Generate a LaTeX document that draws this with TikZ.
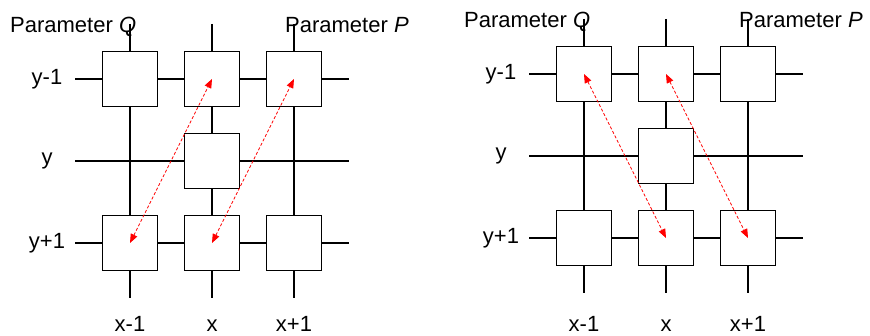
\documentclass[tikz,border=0pt]{standalone}
\usepackage{fontspec}
\setmainfont{Liberation Sans}
\usetikzlibrary{arrows.meta}

\tikzset{
  cell/.style={draw, line width=1.3pt, fill=white, minimum size=55pt, inner sep=0pt},
  wire/.style={line width=1.3pt},
  hop/.style={red, line width=0.8pt, dash pattern=on 3pt off 2pt,
    {Triangle[length=9pt,width=7pt]}-{Triangle[length=9pt,width=7pt]}},
  lbl/.style={font=\fontsize{22}{26}\selectfont, inner sep=0pt},
}

\begin{document}
\begin{tikzpicture}[x=1pt, y=1pt]
	\useasboundingbox (0,0) rectangle (870,335);

	% Left grid: Q at (x-1,y+1) -> (x,y-1), P at (x,y+1) -> (x+1,y-1)
	\begin{scope}[shift={(212,174)}]
		\foreach \i/\c in {1/-82, 2/0, 3/82} {
			\coordinate (lt\i) at (\c,137); \coordinate (lb\i) at (\c,-137);
			\coordinate (lw\i) at (-137,-\c); \coordinate (le\i) at (137,-\c);
			\draw[wire] (lt\i) -- (lb\i);
			\draw[wire] (lw\i) -- (le\i);
		}
		\node[cell] (lnw) at (-82,82) {};
		\node[cell] (ln) at (0,82) {};
		\node[cell] (lne) at (82,82) {};
		\node[cell] (lc) at (0,0) {};
		\node[cell] (lsw) at (-82,-82) {};
		\node[cell] (ls) at (0,-82) {};
		\node[cell] (lse) at (82,-82) {};

		\draw[hop] (lsw.center) -- (ln.center);
		\draw[hop] (ls.center) -- (lne.center);

		\node[lbl, anchor=base west] (lq) at (-202,128.7) {Parameter \textit{Q}};
		\node[lbl, anchor=base west] (lp) at (73,128.7) {Parameter \textit{P}};
		\node[lbl] (ly1) at (-165,82) {y-1};
		\node[lbl] (ly2) at (-165,0) {y};
		\node[lbl] (ly3) at (-165,-82) {y+1};
		\node[lbl, anchor=base] (lx1) at ([yshift=-33pt]lb1) {x-1};
		\node[lbl, anchor=base] (lx2) at ([yshift=-33pt]lb2) {x};
		\node[lbl, anchor=base] (lx3) at ([yshift=-33pt]lb3) {x+1};
	\end{scope}

	% Right grid: Q at (x-1,y-1) -> (x,y+1), P at (x,y-1) -> (x+1,y+1)
	\begin{scope}[shift={(666,179)}]
		\foreach \i/\c in {1/-82, 2/0, 3/82} {
			\coordinate (rt\i) at (\c,137); \coordinate (rb\i) at (\c,-137);
			\coordinate (rw\i) at (-137,-\c); \coordinate (re\i) at (137,-\c);
			\draw[wire] (rt\i) -- (rb\i);
			\draw[wire] (rw\i) -- (re\i);
		}
		\node[cell] (rnw) at (-82,82) {};
		\node[cell] (rn) at (0,82) {};
		\node[cell] (rne) at (82,82) {};
		\node[cell] (rc) at (0,0) {};
		\node[cell] (rsw) at (-82,-82) {};
		\node[cell] (rs) at (0,-82) {};
		\node[cell] (rse) at (82,-82) {};

		\draw[hop] (rnw.center) -- (rs.center);
		\draw[hop] (rn.center) -- (rse.center);

		\node[lbl, anchor=base west] (rq) at (-202,128.7) {Parameter \textit{Q}};
		\node[lbl, anchor=base west] (rp) at (73,128.7) {Parameter \textit{P}};
		\node[lbl] (ry1) at (-165,82) {y-1};
		\node[lbl] (ry2) at (-165,0) {y};
		\node[lbl] (ry3) at (-165,-82) {y+1};
		\node[lbl, anchor=base] (rx1) at ([yshift=-38pt]rb1) {x-1};
		\node[lbl, anchor=base] (rx2) at ([yshift=-38pt]rb2) {x};
		\node[lbl, anchor=base] (rx3) at ([yshift=-38pt]rb3) {x+1};
	\end{scope}
\end{tikzpicture}
\end{document}
